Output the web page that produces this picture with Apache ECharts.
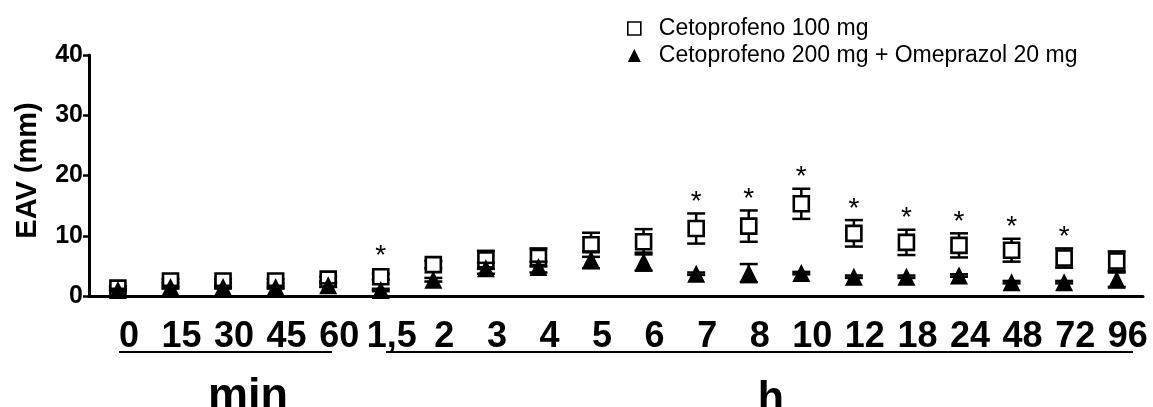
<!DOCTYPE html>
<html><head><meta charset="utf-8">
<script src="https://cdn.jsdelivr.net/npm/echarts@6/dist/echarts.min.js"></script>
<style>html,body{margin:0;padding:0;background:#fff}#c{width:1153px;height:407px}</style>
</head><body><div id="c"></div>
<script>
// ---- data ----
const categories = ['0','15','30','45','60','1,5','2','3','4','5','6','7','8','10','12','18','24','48','72','96'];
const yTicks = [0, 10, 20, 30, 40];
const seriesNames = ['Cetoprofeno 100 mg', 'Cetoprofeno 200 mg + Omeprazol 20 mg'];
const keto100     = [1.3, 2.5, 2.5, 2.5, 2.8, 3.2, 5.2, 6.0, 6.4, 8.5, 9.0, 11.2, 11.6, 15.3, 10.4, 8.9, 8.4, 7.6, 6.3, 5.8];
const keto100Sem  = [0.3, 0.3, 0.3, 0.3, 0.4, 0.5, 0.6, 1.5, 1.5, 2.0, 2.1, 2.5, 2.6, 2.5, 2.2, 2.1, 2.0, 1.9, 1.6, 1.6];
const ketoOme     = [1.0, 1.5, 1.5, 1.5, 1.8, 1.0, 2.7, 4.6, 4.8, 6.0, 5.7, 3.7, 3.8, 3.8, 3.2, 3.2, 3.4, 2.3, 2.3, 2.7];
const ketoOmeSem  = [0.2, 0.2, 0.2, 0.2, 0.3, 0.2, 0.3, 0.9, 0.9, 1.4, 1.5, 0.2, 1.5, 0.2, 0.2, 0.2, 0.2, 0.2, 0.2, 1.2];
const significance = ['', '', '', '', '', '*', '', '', '', '', '', '*', '*', '*', '*', '*', '*', '*', '*', ''];
const groupLabels = ['min', 'h'];

// ---- chart ----
const FONT = "'Liberation Sans', Arial, sans-serif";
const chart = echarts.init(document.getElementById('c'), null, {renderer: 'canvas'});
const idx = categories.map((_, i) => i);

function errRender(sig, halfCap) {
  return function (params, api) {
    const i = api.value(0), v = api.value(1), e = api.value(2);
    const c = api.coord([i, v]);
    const t = api.coord([i, v + e]);
    const b = api.coord([i, v - e]);
    const st = {stroke: '#000', lineWidth: 2.5};
    const children = [
      {type: 'line', shape: {x1: c[0], y1: t[1], x2: c[0], y2: b[1]}, style: st},
      {type: 'line', shape: {x1: c[0] - halfCap, y1: t[1], x2: c[0] + halfCap, y2: t[1]}, style: st},
      {type: 'line', shape: {x1: c[0] - halfCap, y1: b[1], x2: c[0] + halfCap, y2: b[1]}, style: st}
    ];
    if (sig && sig[params.dataIndex]) {
      const topY = Math.min(t[1], c[1] - 9);
      children.push({type: 'text', style: {
        text: sig[params.dataIndex], x: c[0], y: topY + 3,
        align: 'center', verticalAlign: 'bottom',
        font: '28px ' + FONT, fill: '#000'
      }});
    }
    return {type: 'group', children};
  };
}

chart.setOption({
  animation: false,
  backgroundColor: '#fff',
  textStyle: {fontFamily: FONT, color: '#000'},
  grid: {left: 89, right: 10, top: 55, bottom: 111, containLabel: false},
  legend: {
    orient: 'vertical', left: 627, top: 17, padding: 0,
    itemWidth: 13, itemHeight: 13, itemGap: 4,
    textStyle: {fontFamily: FONT, fontSize: 23, color: '#000', padding: [0, 0, 0, 13]},
    data: [
      {name: seriesNames[0], icon: 'rect', itemStyle: {color: '#fff', borderColor: '#000', borderWidth: 1.6}},
      {name: seriesNames[1], icon: 'triangle', itemStyle: {color: '#000', borderWidth: 0}}
    ]
  },
  xAxis: {
    type: 'value', min: -0.55, max: 19.5,
    splitLine: {show: false},
    axisLine: {show: true, onZero: false, lineStyle: {color: '#000', width: 3}},
    axisTick: {show: false},
    axisLabel: {
      customValues: idx,
      formatter: v => categories[Math.round(v)] ?? '',
      fontFamily: FONT, fontWeight: 'bold', fontSize: 36, color: '#000',
      margin: 23, padding: [0, 0, 0, 22]
    }
  },
  yAxis: {
    type: 'value', min: yTicks[0], max: yTicks[yTicks.length - 1], interval: 10,
    name: 'EAV (mm)', nameLocation: 'middle', nameGap: 47,
    nameTextStyle: {fontFamily: FONT, fontWeight: 'bold', fontSize: 29, color: '#000', padding: [0, 0, 0, 10]},
    splitLine: {show: false},
    axisLine: {show: true, onZero: false, lineStyle: {color: '#000', width: 3}},
    axisTick: {show: true, length: 6, lineStyle: {color: '#000', width: 2.5}},
    axisLabel: {fontFamily: FONT, fontWeight: 'bold', fontSize: 25, color: '#000', margin: 6}
  },
  graphic: [
    {type: 'line', shape: {x1: 119, y1: 352, x2: 332, y2: 352}, style: {stroke: '#000', lineWidth: 2}},
    {type: 'line', shape: {x1: 386, y1: 352, x2: 1133, y2: 352}, style: {stroke: '#000', lineWidth: 2}},
    {type: 'text', style: {text: groupLabels[0], x: 248, y: 419, align: 'center', verticalAlign: 'bottom',
      font: 'bold 45px ' + FONT, fill: '#000'}},
    {type: 'text', style: {text: groupLabels[1], x: 771, y: 421, align: 'center', verticalAlign: 'bottom',
      font: 'bold 43px ' + FONT, fill: '#000'}}
  ],
  series: [
    {
      type: 'custom', name: 'err100', z: 1, silent: true,
      renderItem: errRender(significance, 9),
      data: idx.map(i => [i, keto100[i], keto100Sem[i]])
    },
    {
      type: 'scatter', name: seriesNames[0], z: 2,
      symbol: 'rect', symbolSize: 15,
      itemStyle: {color: '#fff', borderColor: '#000', borderWidth: 2.6, opacity: 1},
      data: idx.map(i => [i, keto100[i]])
    },
    {
      type: 'custom', name: 'errOme', z: 3, silent: true,
      renderItem: errRender(null, 9),
      data: idx.map(i => [i, ketoOme[i], ketoOmeSem[i]])
    },
    {
      type: 'scatter', name: seriesNames[1], z: 4,
      symbol: 'triangle', symbolSize: 18,
      itemStyle: {color: '#000', opacity: 1},
      data: idx.map(i => [i, ketoOme[i]])
    }
  ]
});
</script>
</body></html>
